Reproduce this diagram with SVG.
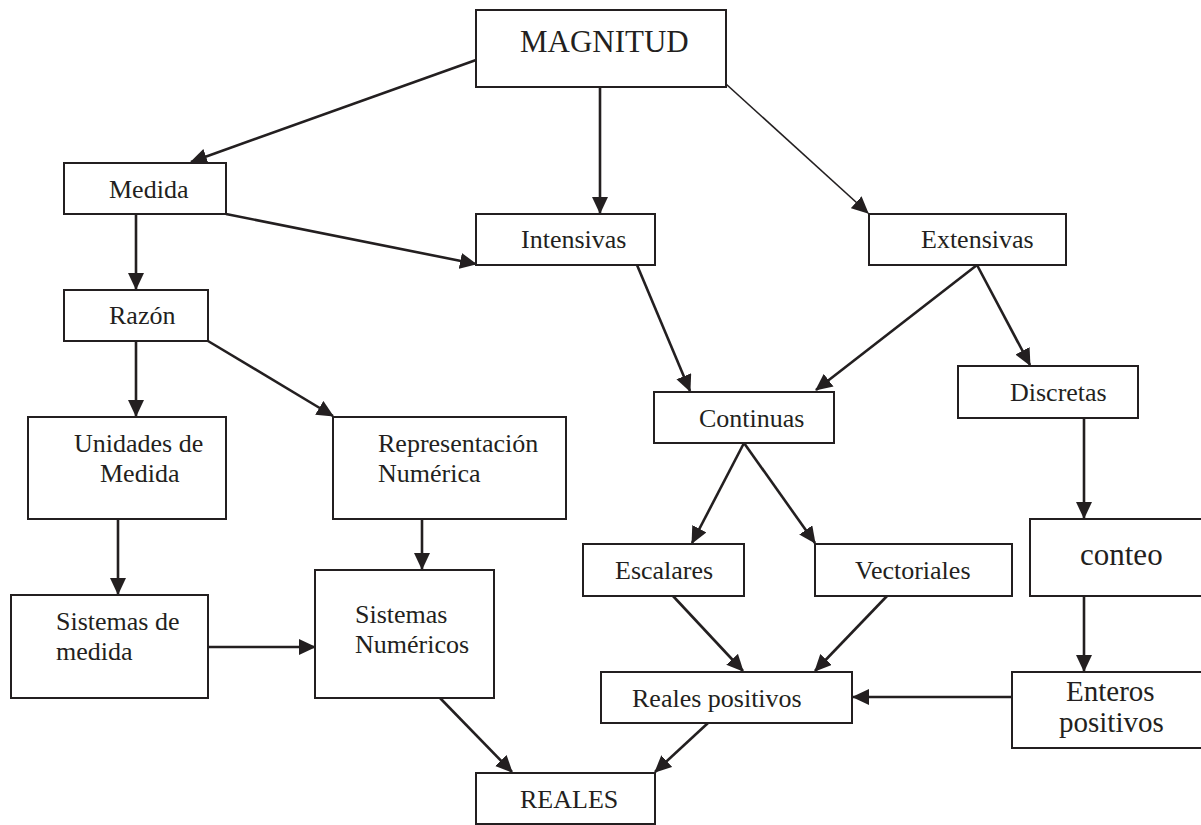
<svg xmlns="http://www.w3.org/2000/svg" width="1201" height="825" viewBox="0 0 1201 825">
<style>
.box{fill:#fff;stroke:#231f20;stroke-width:2}
.t{font-family:"Liberation Serif","Times New Roman",serif;font-size:26px;fill:#231f20}
.big{font-size:31px}
.mid{font-size:29px}
.c{fill:none;stroke:#231f20;stroke-width:2.6}
.thin{stroke-width:1.6}
</style>
<defs>
<marker id="ah" markerUnits="userSpaceOnUse" markerWidth="17" markerHeight="16" viewBox="0 0 17 16" refX="16" refY="8" orient="auto">
<path d="M0,0 L17,8 L0,16 z" fill="#231f20"/>
</marker>
</defs>
<rect width="1201" height="825" fill="#fff"/>
<g id="connectors">
<line class="c" x1="476" y1="60" x2="191" y2="162" marker-end="url(#ah)"/>
<line class="c" x1="600" y1="87" x2="600" y2="213" marker-end="url(#ah)"/>
<line class="c thin" x1="726" y1="84" x2="868" y2="213" marker-end="url(#ah)"/>
<line class="c" x1="226" y1="214" x2="476" y2="264" marker-end="url(#ah)"/>
<line class="c" x1="136" y1="214" x2="136" y2="289" marker-end="url(#ah)"/>
<line class="c" x1="136" y1="341" x2="136" y2="416" marker-end="url(#ah)"/>
<line class="c" x1="208" y1="341" x2="333" y2="416" marker-end="url(#ah)"/>
<line class="c" x1="118" y1="519" x2="118" y2="594" marker-end="url(#ah)"/>
<line class="c" x1="208" y1="647" x2="315" y2="647" marker-end="url(#ah)"/>
<line class="c" x1="422" y1="519" x2="422" y2="569" marker-end="url(#ah)"/>
<line class="c" x1="440" y1="698" x2="512" y2="772" marker-end="url(#ah)"/>
<line class="c" x1="708" y1="723" x2="655" y2="772" marker-end="url(#ah)"/>
<line class="c" x1="637" y1="265" x2="690" y2="391" marker-end="url(#ah)"/>
<line class="c" x1="977" y1="265" x2="816" y2="390" marker-end="url(#ah)"/>
<line class="c" x1="977" y1="265" x2="1030" y2="365" marker-end="url(#ah)"/>
<line class="c" x1="744" y1="443" x2="692" y2="543" marker-end="url(#ah)"/>
<line class="c" x1="744" y1="443" x2="815" y2="543" marker-end="url(#ah)"/>
<line class="c" x1="673" y1="596" x2="743" y2="671" marker-end="url(#ah)"/>
<line class="c" x1="887" y1="596" x2="815" y2="671" marker-end="url(#ah)"/>
<line class="c" x1="1084" y1="418" x2="1084" y2="518" marker-end="url(#ah)"/>
<line class="c" x1="1084" y1="596" x2="1084" y2="671" marker-end="url(#ah)"/>
<line class="c" x1="1012" y1="697" x2="853" y2="697" marker-end="url(#ah)"/>
</g>
<g id="magnitud"><rect class="box" x="476" y="10" width="250" height="77"/><text class="t big" x="520" y="52">MAGNITUD</text></g>
<g id="medida"><rect class="box" x="64" y="163" width="162" height="51"/><text class="t" x="109" y="198">Medida</text></g>
<g id="intensivas"><rect class="box" x="476" y="214" width="179" height="51"/><text class="t" x="521" y="248">Intensivas</text></g>
<g id="extensivas"><rect class="box" x="869" y="214" width="197" height="51"/><text class="t" x="921" y="248">Extensivas</text></g>
<g id="razon"><rect class="box" x="64" y="290" width="144" height="51"/><text class="t" x="109" y="324">Razón</text></g>
<g id="unidades"><rect class="box" x="28" y="417" width="198" height="102"/><text class="t" x="74" y="452">Unidades de</text><text class="t" x="100" y="482">Medida</text></g>
<g id="representacion"><rect class="box" x="333" y="417" width="233" height="102"/><text class="t" x="378" y="452">Representación</text><text class="t" x="378" y="482">Numérica</text></g>
<g id="continuas"><rect class="box" x="654" y="392" width="180" height="51"/><text class="t" x="699" y="427">Continuas</text></g>
<g id="discretas"><rect class="box" x="958" y="366" width="180" height="52"/><text class="t" x="1010" y="401">Discretas</text></g>
<g id="sistemas-medida"><rect class="box" x="11" y="595" width="197" height="103"/><text class="t" x="56" y="630">Sistemas de</text><text class="t" x="56" y="660">medida</text></g>
<g id="sistemas-numericos"><rect class="box" x="315" y="570" width="179" height="128"/><text class="t" x="355" y="623">Sistemas</text><text class="t" x="355" y="653">Numéricos</text></g>
<g id="escalares"><rect class="box" x="583" y="544" width="161" height="52"/><text class="t" x="615" y="579">Escalares</text></g>
<g id="vectoriales"><rect class="box" x="815" y="544" width="197" height="52"/><text class="t" x="855" y="579">Vectoriales</text></g>
<g id="conteo"><rect class="box" x="1030" y="519" width="175" height="77"/><text class="t big" x="1080" y="565">conteo</text></g>
<g id="reales-positivos"><rect class="box" x="601" y="672" width="251" height="51"/><text class="t" x="632" y="707">Reales positivos</text></g>
<g id="enteros-positivos"><rect class="box" x="1012" y="672" width="193" height="76"/><text class="t mid" x="1066" y="701">Enteros</text><text class="t mid" x="1059" y="732">positivos</text></g>
<g id="reales"><rect class="box" x="476" y="773" width="179" height="51"/><text class="t" x="520" y="808">REALES</text></g>
</svg>
